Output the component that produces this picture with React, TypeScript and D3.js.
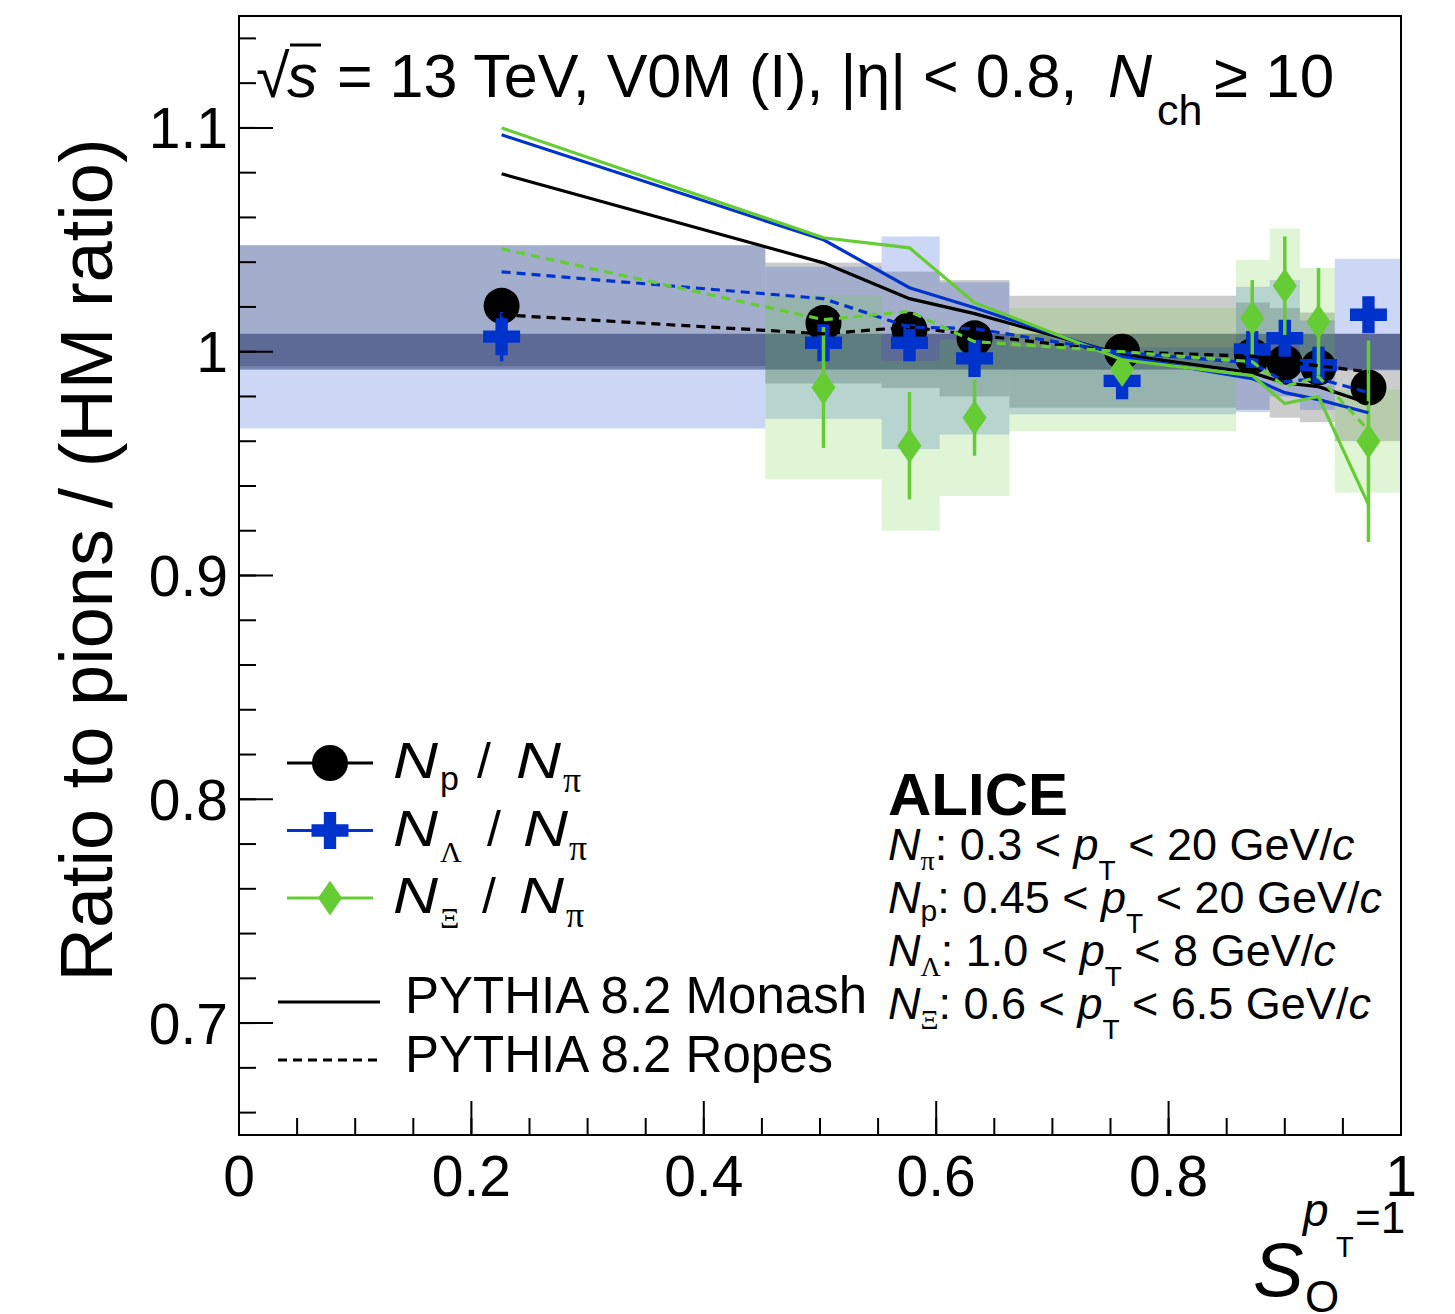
import React from "react";
import * as d3 from "d3";

// S_O^{pT=1} of each multiplicity class, and the class edges used for the syst. boxes
const sO = [0.226, 0.503, 0.577, 0.633, 0.76, 0.872, 0.9, 0.929, 0.972];
const binLow = [0, 0.453, 0.553, 0.603, 0.663, 0.858, 0.887, 0.913, 0.943];
const binHigh = [0.453, 0.553, 0.603, 0.663, 0.858, 0.887, 0.913, 0.943, 1.0];

// N_p / N_pi
const protonRatio = [1.0205, 1.0128, 1.0098, 1.006, 1.0, 0.998, 0.995, 0.993, 0.984];
const protonStat = [0.003, 0.003, 0.003, 0.003, 0.003, 0.003, 0.003, 0.003, 0.003];
const protonSyst = [0.027, 0.027, 0.026, 0.026, 0.025, 0.024, 0.0245, 0.0245, 0.024];

// N_Lambda / N_pi
const lambdaRatio = [1.0067, 1.004, 1.004, 0.997, 0.987, 1.001, 1.006, 0.994, 1.0165];
const lambdaStat = [0.011, 0.006, 0.006, 0.006, 0.005, 0.006, 0.008, 0.006, 0.008];
const lambdaSyst = [0.041, 0.034, 0.0475, 0.034, 0.015, 0.028, 0.026, 0.02, 0.025];

// N_Xi / N_pi (no value in the first class)
const xiRatio = [null, 0.984, 0.958, 0.9705, 0.992, 1.015, 1.0295, 1.0134, 0.96];
const xiStat = [null, 0.027, 0.024, 0.017, 0.006, 0.017, 0.022, 0.024, 0.045];
const xiSyst = [null, 0.041, 0.038, 0.035, 0.0275, 0.026, 0.0255, 0.024, 0.023];

// PYTHIA 8.2 Monash
const monashP = [1.0795, 1.0397, 1.0237, 1.017, 0.9987, 0.9906, 0.986, 0.9844, 0.977];
const monashL = [1.0969, 1.05, 1.0286, 1.0196, 0.9978, 0.988, 0.9817, 0.9786, 0.9727];
const monashX = [1.1, 1.0509, 1.0464, 1.0219, 0.9964, 0.9893, 0.9768, 0.98, 0.9317];

// PYTHIA 8.2 Ropes
const ropesP = [1.0165, 1.008, 1.011, 1.0075, 1.0, 0.998, 0.9955, 0.9937, 0.991];
const ropesL = [1.0357, 1.0237, 1.011, 1.0103, 0.9996, 0.995, 0.9866, 0.988, 0.9817];
const ropesX = [1.046, 1.0143, 1.018, 1.0045, 1.0, 0.9955, 0.9845, 0.9888, 0.965];

// common normalisation band around 1
const normUnc = 0.008;

const W = 1455;
const H = 1314;
const LEFT = 239;
const RIGHT = 1401;
const TOP = 16;
const BOTTOM = 1135;

const BLACK = "#000000";
const BLUE = "#0033cc";
const GREEN = "#66cc33";
const FONT = "'Liberation Sans', Arial, Helvetica, sans-serif";
const GREEK = "'Liberation Serif', 'DejaVu Serif', serif";

const crossPath = d3.symbol(d3.symbolCross, 760)();
const diamondPath = "M0,-17.5L12,0L0,17.5L-12,0Z";

function Marker({ kind, color }) {
  if (kind === "circle") return <circle r={18} fill={color} />;
  if (kind === "cross") return <path d={crossPath} fill={color} />;
  return <path d={diamondPath} fill={color} />;
}

// wide italic N as drawn by ROOT in the legend
function BigN({ x, y }) {
  return (
    <text x={x} y={y} fontStyle="italic" textLength={45} lengthAdjust="spacingAndGlyphs">
      N
    </text>
  );
}

// one line of the pT-range block
function RangeLine({ y, sub, greek, range }) {
  return (
    <text x={888} y={y}>
      <tspan fontStyle="italic">N</tspan>
      <tspan fontSize={greek ? 28 : 30} dy={greek ? 10 : 8} fontFamily={greek ? GREEK : undefined}>
        {sub}
      </tspan>
      <tspan dy={greek ? -10 : -8}>{": " + range[0] + " < "}</tspan>
      <tspan fontStyle="italic">p</tspan>
      <tspan fontSize={28} dy={20}>T</tspan>
      <tspan dy={-20}>{" < " + range[1] + " GeV/"}</tspan>
      <tspan fontStyle="italic">c</tspan>
    </text>
  );
}

export default function App() {
  const x = d3.scaleLinear().domain([0, 1]).range([LEFT, RIGHT]);
  const y = d3.scaleLinear().domain([0.65, 1.15]).range([BOTTOM, TOP]);

  const series = [
    { name: "p", values: protonRatio, stat: protonStat, syst: protonSyst, color: BLACK, marker: "circle" },
    { name: "lambda", values: lambdaRatio, stat: lambdaStat, syst: lambdaSyst, color: BLUE, marker: "cross" },
    { name: "xi", values: xiRatio, stat: xiStat, syst: xiSyst, color: GREEN, marker: "diamond" },
  ];

  const models = [
    { values: monashP, color: BLACK, dash: null },
    { values: monashL, color: BLUE, dash: null },
    { values: monashX, color: GREEN, dash: null },
    { values: ropesP, color: BLACK, dash: "9,6" },
    { values: ropesL, color: BLUE, dash: "9,6" },
    { values: ropesX, color: GREEN, dash: "9,6" },
  ];

  const line = d3
    .line<number>()
    .x((d, i) => x(sO[i]))
    .y((d) => y(d));

  const yMajor = y.ticks(5);
  const yMinor = y.ticks(25);
  const xMajor = x.ticks(5);
  const xMinor = x.ticks(20);
  const fmt = d3.format("~g");

  return (
    <svg
      width={W}
      height={H}
      style={{ position: "absolute", left: 0, top: 0, background: "#fff" }}
      fontFamily={FONT}
    >
      <defs>
        <clipPath id="plotArea">
          <rect x={LEFT} y={TOP} width={RIGHT - LEFT} height={BOTTOM - TOP} />
        </clipPath>
      </defs>
      <rect x={0} y={0} width={W} height={H} fill="#fff" />

      <g clipPath="url(#plotArea)">
        {/* normalisation band */}
        <rect
          x={x(0)}
          width={x(1) - x(0)}
          y={y(1 + normUnc)}
          height={y(1 - normUnc) - y(1 + normUnc)}
          fill="#0c1b40"
          fillOpacity={0.45}
        />
        {/* systematic boxes */}
        {series.map((s) =>
          s.values.map((v, i) =>
            v == null ? null : (
              <rect
                key={s.name + "box" + i}
                x={x(binLow[i])}
                width={x(binHigh[i]) - x(binLow[i])}
                y={y(v + s.syst[i])}
                height={y(v - s.syst[i]) - y(v + s.syst[i])}
                fill={s.color}
                fillOpacity={0.2}
              />
            )
          )
        )}
        {/* stat. errors and markers */}
        {series.map((s) => (
          <g key={s.name}>
            {s.values.map((v, i) =>
              v == null ? null : (
                <g key={i}>
                  <line
                    x1={x(sO[i])}
                    x2={x(sO[i])}
                    y1={y(v - s.stat[i])}
                    y2={y(v + s.stat[i])}
                    stroke={s.color}
                    strokeWidth={3.5}
                  />
                  <g transform={`translate(${x(sO[i])},${y(v)})`}>
                    <Marker kind={s.marker} color={s.color} />
                  </g>
                </g>
              )
            )}
          </g>
        ))}
        {/* PYTHIA curves */}
        {models.map((m, i) => (
          <path
            key={"model" + i}
            d={line(m.values)}
            fill="none"
            stroke={m.color}
            strokeWidth={3.2}
            strokeDasharray={m.dash || undefined}
          />
        ))}
      </g>

      {/* frame */}
      <rect x={LEFT} y={TOP} width={RIGHT - LEFT} height={BOTTOM - TOP} fill="none" stroke="#000" strokeWidth={2} />

      {/* y axis */}
      {yMinor.map((t) => (
        <line key={"ym" + t} x1={LEFT} x2={LEFT + 17} y1={y(t)} y2={y(t)} stroke="#000" strokeWidth={2} />
      ))}
      {yMajor.map((t) => (
        <g key={"yM" + t}>
          <line x1={LEFT} x2={LEFT + 34} y1={y(t)} y2={y(t)} stroke="#000" strokeWidth={2} />
          <text x={LEFT - 11} y={y(t)} dy="0.36em" textAnchor="end" fontSize={57}>
            {fmt(t)}
          </text>
        </g>
      ))}

      {/* x axis */}
      {xMinor.map((t) => (
        <line key={"xm" + t} x1={x(t)} x2={x(t)} y1={BOTTOM} y2={BOTTOM - 17} stroke="#000" strokeWidth={2} />
      ))}
      {xMajor.map((t) => (
        <g key={"xM" + t}>
          <line x1={x(t)} x2={x(t)} y1={BOTTOM} y2={BOTTOM - 34} stroke="#000" strokeWidth={2} />
          <text x={x(t)} y={1196} textAnchor="middle" fontSize={57}>
            {fmt(t)}
          </text>
        </g>
      ))}

      {/* axis titles */}
      <text transform="translate(112,560) rotate(-90)" textAnchor="middle" fontSize={74}>
        Ratio to pions / (HM ratio)
      </text>
      <text x={1253} y={1296} fontSize={76} fontStyle="italic">S</text>
      <text x={1305} y={1312} fontSize={44}>O</text>
      <text x={1303} y={1226} fontSize={46} fontStyle="italic">p</text>
      <text x={1336} y={1257} fontSize={29}>T</text>
      <text x={1355} y={1233} fontSize={44}>=1</text>

      {/* header */}
      <text x={256} y={97} fontSize={61}>√</text>
      <line x1={290} x2={321} y1={45} y2={45} stroke="#000" strokeWidth={3} />
      <text x={287} y={97} fontSize={61} fontStyle="italic">s</text>
      <text x={337} y={97} fontSize={61}>= 13 TeV, V0M (I), |η| &lt; 0.8,</text>
      <text x={1108} y={97} fontSize={61} fontStyle="italic">N</text>
      <text x={1157} y={125} fontSize={43}>ch</text>
      <text x={1214} y={97} fontSize={62}>≥ 10</text>

      {/* legend: data */}
      {series.map((s, i) => (
        <g key={"leg" + s.name} transform={`translate(330,${763 + i * 67.5})`}>
          <line x1={-43} x2={43} y1={0} y2={0} stroke={s.color} strokeWidth={3} />
          <Marker kind={s.marker} color={s.color} />
        </g>
      ))}
      <g fontSize={50}>
        <BigN x={393} y={778} />
        <text x={440} y={790} fontSize={34}>p</text>
        <text x={477} y={778}>/</text>
        <BigN x={516} y={778} />
        <text x={563} y={792} fontSize={36} fontFamily={GREEK}>π</text>

        <BigN x={393} y={846} />
        <text x={440} y={862} fontSize={30} fontFamily={GREEK}>Λ</text>
        <text x={487} y={846}>/</text>
        <BigN x={523} y={846} />
        <text x={569} y={860} fontSize={36} fontFamily={GREEK}>π</text>

        <BigN x={393} y={913} />
        <text x={440} y={928} fontSize={30} fontFamily={GREEK}>Ξ</text>
        <text x={482} y={913}>/</text>
        <BigN x={519} y={913} />
        <text x={566} y={927} fontSize={36} fontFamily={GREEK}>π</text>
      </g>

      {/* legend: models */}
      <line x1={278} x2={380} y1={1002} y2={1002} stroke="#000" strokeWidth={3} />
      <line x1={278} x2={380} y1={1060} y2={1060} stroke="#000" strokeWidth={3} strokeDasharray="9,6" />
      <text x={405} y={1013} fontSize={51}>PYTHIA 8.2 Monash</text>
      <text x={405} y={1072} fontSize={51}>PYTHIA 8.2 Ropes</text>

      {/* ALICE label and pT ranges */}
      <text x={888} y={815} fontSize={60} fontWeight="bold">ALICE</text>
      <g fontSize={45}>
        <RangeLine y={860} sub="π" greek range={["0.3", "20"]} />
        <RangeLine y={913} sub="p" greek={false} range={["0.45", "20"]} />
        <RangeLine y={966} sub="Λ" greek range={["1.0", "8"]} />
        <RangeLine y={1019} sub="Ξ" greek range={["0.6", "6.5"]} />
      </g>
    </svg>
  );
}
